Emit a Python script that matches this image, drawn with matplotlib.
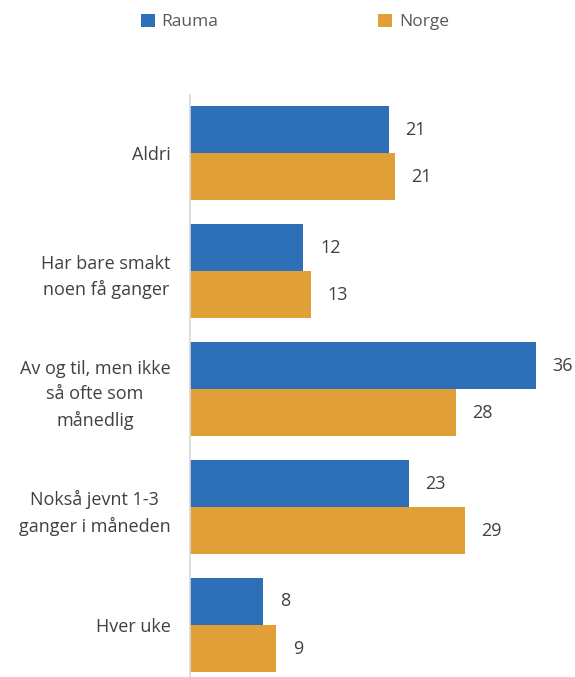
import matplotlib.pyplot as plt
import numpy as np

categories = ['Aldri', 'Har bare smakt\nnoen få ganger', 'Av og til, men ikke\nså ofte som\nmånedlig',
              'Nokså jevnt 1-3\nganger i måneden', 'Hver uke']
rauma = [20.7, 11.8, 36.0, 22.8, 7.6]
norge = [21.3, 12.6, 27.7, 28.6, 9.0]
series_names = ['Rauma', 'Norge']

blue = '#2E70B7'
orange = '#E09F37'

plt.rcParams['font.family'] = ['Open Sans', 'DejaVu Sans']

fig = plt.figure(figsize=(5.75, 6.77), dpi=100)
ax = fig.add_axes([190 / 575, 0, 1 - 190 / 575, 582 / 677])

y = np.arange(len(categories))
h = 0.4
b1 = ax.barh(y - h / 2, rauma, height=h, color=blue, label=series_names[0])
b2 = ax.barh(y + h / 2, norge, height=h, color=orange, label=series_names[1])

for bars, vals in ((b1, rauma), (b2, norge)):
    for bar, v in zip(bars, vals):
        ax.annotate(f'{v:.0f}', (bar.get_width(), bar.get_y() + bar.get_height() / 2),
                    xytext=(12, 0), textcoords='offset points', va='center', ha='left',
                    fontsize=13, color='#404040')

ax.set_xlim(0, 40.1)
ax.set_ylim(4.44, -0.493)
ax.set_yticks(y)
ax.set_yticklabels(categories, fontsize=13, color='#404040', multialignment='center',
                   linespacing=1.5)
ax.tick_params(axis='y', length=0, pad=14)
ax.set_xticks([])
for s in ['top', 'right', 'bottom']:
    ax.spines[s].set_visible(False)
ax.spines['left'].set_color('#D9D9D9')
ax.spines['left'].set_linewidth(1.2)

fig.legend(handles=[b1, b2], loc='center', bbox_to_anchor=(0.513, 1 - 22 / 677), ncol=2,
           frameon=False, fontsize=12.5, labelcolor='#595959', handlelength=0.8,
           handleheight=0.8, handletextpad=0.4, columnspacing=9.2)

fig.savefig('out.png', dpi=100)
